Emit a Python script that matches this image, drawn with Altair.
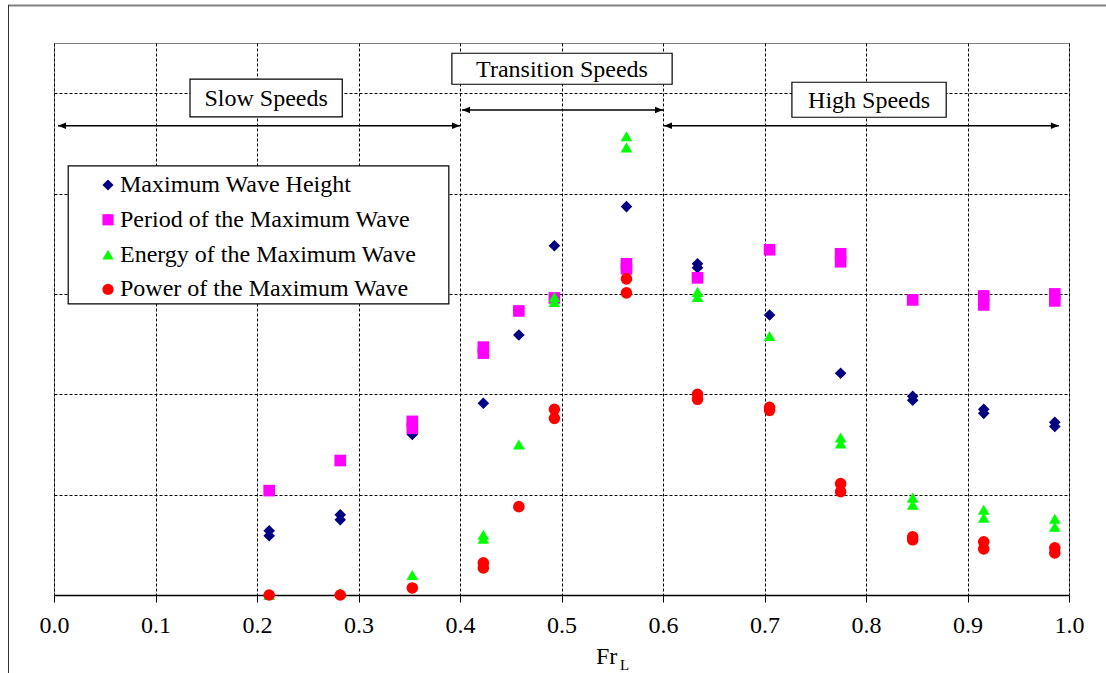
import altair as alt
import pandas as pd

# ---------------- data ----------------
series_names = [
    "Maximum Wave Height",
    "Period of the Maximum Wave",
    "Energy of the Maximum Wave",
    "Power of the Maximum Wave",
]
series_colors = ["#000080", "#FF00FF", "#00FF00", "#FF0000"]
series_shapes = ["diamond", "square", "triangle-up", "circle"]

height_x = [0.212, 0.212, 0.282, 0.282, 0.353, 0.423, 0.458, 0.493, 0.564, 0.634, 0.634,
            0.705, 0.775, 0.846, 0.846, 0.916, 0.916, 0.986, 0.986]
height_y = [0.64, 0.59, 0.80, 0.75, 1.60, 1.91, 2.59, 3.48, 3.87, 3.30, 3.26,
            2.79, 2.21, 1.98, 1.94, 1.85, 1.81, 1.72, 1.68]

period_x = [0.212, 0.282, 0.353, 0.353, 0.423, 0.423, 0.458, 0.493, 0.564, 0.564, 0.634,
            0.705, 0.775, 0.775, 0.846, 0.916, 0.916, 0.986, 0.986]
period_y = [1.04, 1.34, 1.73, 1.66, 2.47, 2.41, 2.83, 2.96, 3.30, 3.25, 3.16,
            3.44, 3.40, 3.32, 2.94, 2.98, 2.89, 3.00, 2.93]

energy_x = [0.212, 0.282, 0.353, 0.423, 0.423, 0.458, 0.493, 0.493, 0.564, 0.564, 0.634, 0.634,
            0.705, 0.775, 0.775, 0.846, 0.846, 0.916, 0.916, 0.986, 0.986]
energy_y = [0.00, 0.02, 0.20, 0.60, 0.56, 1.50, 2.97, 2.92, 4.57, 4.46, 3.02, 2.97,
            2.58, 1.57, 1.51, 0.97, 0.90, 0.85, 0.77, 0.76, 0.68]

power_x = [0.212, 0.282, 0.353, 0.423, 0.423, 0.458, 0.493, 0.493, 0.564, 0.564, 0.634, 0.634,
           0.705, 0.705, 0.775, 0.775, 0.846, 0.846, 0.916, 0.916, 0.986, 0.986]
power_y = [0.00, 0.00, 0.07, 0.32, 0.27, 0.88, 1.85, 1.76, 3.15, 3.01, 2.00, 1.95,
           1.87, 1.84, 1.11, 1.03, 0.58, 0.55, 0.53, 0.46, 0.47, 0.42]

x_ticks = [0.0, 0.1, 0.2, 0.3, 0.4, 0.5, 0.6, 0.7, 0.8, 0.9, 1.0]
y_grid = [1, 2, 3, 4, 5]

# speed-range annotations (data units)
region_labels = ["Slow Speeds", "Transition Speeds", "High Speeds"]
region_box_x0 = [0.134, 0.392, 0.727]
region_box_x1 = [0.284, 0.609, 0.879]
region_box_ytop = [5.141, 5.398, 5.109]
region_box_ybot = [4.763, 5.089, 4.760]
arrow_start = [0.004, 0.402, 0.601]
arrow_end = [0.400, 0.600, 0.990]
arrow_y = [4.676, 4.833, 4.676]

legend_box_x = [0.014, 0.389]
legend_box_y = [4.275, 2.900]

# ---------------- tables ----------------
rows = []
for name, xs, ys in zip(series_names,
                        [height_x, period_x, energy_x, power_x],
                        [height_y, period_y, energy_y, power_y]):
    for a, b in zip(xs, ys):
        rows.append({"series": name, "fr": a, "value": b, "order": len(rows)})
pts = pd.DataFrame(rows)

boxes = pd.DataFrame({
    "x0": region_box_x0 + [legend_box_x[0]],
    "x1": region_box_x1 + [legend_box_x[1]],
    "y0": region_box_ytop + [legend_box_y[0]],
    "y1": region_box_ybot + [legend_box_y[1]],
})
labels = pd.DataFrame({
    "label": region_labels,
    "xm": [(a + b) / 2 for a, b in zip(region_box_x0, region_box_x1)],
    "ym": [(a + b) / 2 for a, b in zip(region_box_ytop, region_box_ybot)],
})
arrows = pd.DataFrame({"x0": arrow_start, "x1": arrow_end, "y": arrow_y})

FONT = "Liberation Serif"
x_scale = alt.Scale(domain=[0, 1], nice=False, zero=False)
y_scale = alt.Scale(domain=[0, 5.5], nice=False, zero=False)

x_axis = alt.Axis(values=x_ticks, format=".1f", title=None, labelFont=FONT, labelFontSize=24,
                  labelColor="black", labelPadding=11, labelFlush=False, labelOverlap=False,
                  tickColor="black", tickSize=7, tickWidth=1, domainColor="black", domainWidth=1.5,
                  grid=True, gridColor="black", gridDash=[3, 2], gridWidth=1)
y_axis = alt.Axis(values=y_grid, title=None, labels=False, ticks=False, domain=False,
                  grid=True, gridColor="black", gridDash=[3, 2], gridWidth=1)

X = lambda f: alt.X(f, scale=x_scale, axis=x_axis)
Y = lambda f: alt.Y(f, scale=y_scale, axis=y_axis)

box_layer = alt.Chart(boxes).mark_rect(fill="white", stroke="black", strokeWidth=1.2).encode(
    x=X("x0:Q"), x2="x1:Q", y=Y("y0:Q"), y2="y1:Q")

label_layer = alt.Chart(labels).mark_text(font=FONT, fontSize=24, color="black",
                                          align="center", baseline="middle", dy=1).encode(
    x=X("xm:Q"), y=Y("ym:Q"), text="label:N")

arrow_line = alt.Chart(arrows).mark_rule(color="black", strokeWidth=1.5).encode(
    x=X("x0:Q"), x2="x1:Q", y=Y("y:Q"))
head_left = alt.Chart(arrows).mark_point(shape="M-1,0L1,-0.8L1,0.8Z", filled=True, color="black",
                                         opacity=1, size=64, xOffset=4).encode(
    x=X("x0:Q"), y=Y("y:Q"))
head_right = alt.Chart(arrows).mark_point(shape="M1,0L-1,-0.8L-1,0.8Z", filled=True, color="black",
                                          opacity=1, size=64, xOffset=-4).encode(
    x=X("x1:Q"), y=Y("y:Q"))

legend = alt.Legend(title=None, orient="none", legendX=42, legendY=130, direction="vertical",
                    labelFont=FONT, labelFontSize=24, labelColor="black", labelOffset=0,
                    labelLimit=500, symbolSize=125, symbolStrokeWidth=0, symbolOpacity=1,
                    rowPadding=10.8, padding=0)

point_layer = alt.Chart(pts).mark_point(filled=True, opacity=1, size=135, strokeWidth=0).encode(
    x=X("fr:Q"), y=Y("value:Q"),
    color=alt.Color("series:N", scale=alt.Scale(domain=series_names, range=series_colors), legend=legend),
    shape=alt.Shape("series:N", scale=alt.Scale(domain=series_names, range=series_shapes), legend=legend),
    order="order:Q")

one = pd.DataFrame({"t": ["Fr"], "s": ["L"]})
title_main = alt.Chart(one).mark_text(font=FONT, fontSize=24, color="black", align="left",
                                      baseline="alphabetic").encode(
    text="t:N", x=alt.value(542), y=alt.value(621))
title_sub = alt.Chart(one).mark_text(font=FONT, fontSize=15, color="black", align="left",
                                     baseline="alphabetic").encode(
    text="s:N", x=alt.value(566), y=alt.value(627))

frame_top = alt.Chart(one).mark_rule(color="#808080", strokeWidth=2).encode(
    x=alt.value(-46), x2=alt.value(1060), y=alt.value(-37.5))
frame_left = alt.Chart(one).mark_rule(color="#333333", strokeWidth=1).encode(
    x=alt.value(-45.5), y=alt.value(-38), y2=alt.value(640))

chart = alt.layer(
    box_layer, label_layer, arrow_line, head_left, head_right, point_layer,
    title_main, title_sub, frame_top, frame_left,
).properties(
    width=1015, height=552,
    autosize=alt.AutoSizeParams(type="none"),
    padding={"left": 54, "top": 43, "right": 37, "bottom": 78},
    background="white",
).configure_view(stroke="#808080", strokeWidth=1)

chart.save("out.html", embed_options={"renderer": "svg", "actions": False})
